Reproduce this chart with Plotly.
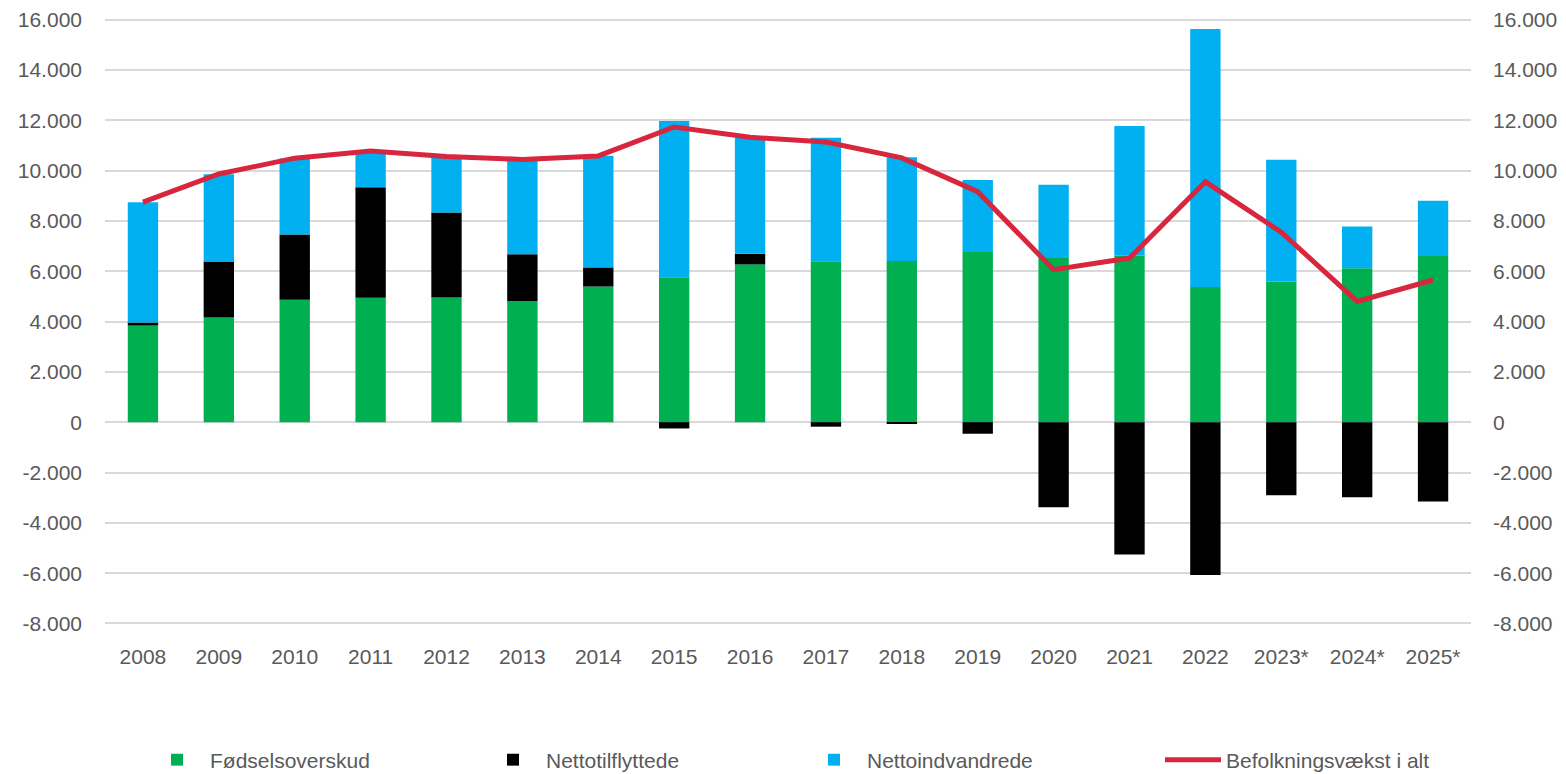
import plotly.graph_objects as go

years = ["2008", "2009", "2010", "2011", "2012", "2013", "2014", "2015", "2016",
         "2017", "2018", "2019", "2020", "2021", "2022", "2023*", "2024*", "2025*"]
foedselsoverskud = [3840, 4160, 4860, 4940, 4950, 4800, 5390, 5760, 6270,
                    6390, 6400, 6760, 6520, 6620, 5370, 5590, 6120, 6600]
nettotilflyttede = [120, 2220, 2600, 4390, 3380, 1870, 760, -250, 420,
                    -180, -50, -460, -3380, -5260, -6070, -2900, -2980, -3150]
nettoindvandrede = [4780, 3470, 3020, 1420, 2220, 3750, 4440, 6210, 4610,
                    4910, 4130, 2860, 2910, 5150, 10250, 4840, 1650, 2200]
befolkningsvaekst = [8740, 9860, 10490, 10770, 10560, 10440, 10580, 11730, 11320,
                     11130, 10500, 9160, 6060, 6520, 9550, 7550, 4800, 5650]

tick_vals = [-8000, -6000, -4000, -2000, 0, 2000, 4000, 6000, 8000, 10000, 12000, 14000, 16000]
tick_text = ["-8.000", "-6.000", "-4.000", "-2.000", "0", "2.000", "4.000", "6.000",
             "8.000", "10.000", "12.000", "14.000", "16.000"]

FONT = "Liberation Sans"
TXT = "#595959"
FS = 21
PAGE = 8                       # browser body margin offset
W, H = 1566 - PAGE, 774 - PAGE
TEXT_OFFSET = 67
legend_text_x = [211, 547, 868, 1227]   # page pixel positions of legend texts
Y_RANGE = [-8060, 16060]

fig = go.Figure()
fig.add_trace(go.Bar(x=years, y=foedselsoverskud, name="Fødselsoverskud",
                     marker=dict(color="#00B050", line=dict(width=0)), legend="legend"))
fig.add_trace(go.Bar(x=years, y=nettotilflyttede, name="Nettotilflyttede",
                     marker=dict(color="#000000", line=dict(width=0)), legend="legend2"))
fig.add_trace(go.Bar(x=years, y=nettoindvandrede, name="Nettoindvandrede",
                     marker=dict(color="#00B0F0", line=dict(width=0)), legend="legend3"))
fig.add_trace(go.Scatter(x=years, y=befolkningsvaekst, name="Befolkningsvækst i alt",
                         mode="lines", line=dict(color="#D7263D", width=5), yaxis="y2",
                         legend="legend4"))

def leg(tx):
    return dict(orientation="h", xref="container", yref="container",
                x=(tx - PAGE - TEXT_OFFSET) / W, y=1 - (760 - PAGE) / H,
                xanchor="left", yanchor="middle",
                itemwidth=56, font=dict(family=FONT, size=FS, color=TXT),
                bgcolor="rgba(0,0,0,0)")

fig.update_layout(
    width=W, height=H,
    barmode="relative", bargap=0.6,
    plot_bgcolor="white", paper_bgcolor="white",
    margin=dict(l=105 - PAGE, r=95, t=18 - PAGE, b=149, autoexpand=False),
    font=dict(family=FONT, size=FS, color=TXT),
    xaxis=dict(showgrid=False, ticks="", showline=False, automargin=False,
               ticklabelstandoff=17, tickfont=dict(size=FS, color=TXT)),
    yaxis=dict(range=Y_RANGE, tickvals=tick_vals, ticktext=tick_text,
               showgrid=True, gridcolor="#D9D9D9", gridwidth=1.5,
               zeroline=True, zerolinecolor="#D9D9D9", zerolinewidth=1.5,
               showline=False, ticks="", automargin=False, ticklabelstandoff=22,
               ticklabeloverflow="allow", tickfont=dict(size=FS, color=TXT)),
    yaxis2=dict(range=Y_RANGE, tickvals=tick_vals, ticktext=tick_text,
                overlaying="y", side="right", showgrid=False, zeroline=False,
                showline=False, ticks="", automargin=False, ticklabelstandoff=21,
                ticklabeloverflow="allow", tickfont=dict(size=FS, color=TXT)),
    legend=leg(legend_text_x[0]),
    legend2=leg(legend_text_x[1]),
    legend3=leg(legend_text_x[2]),
    legend4=leg(legend_text_x[3]),
    showlegend=True,
)

fig.write_html("out.html")
